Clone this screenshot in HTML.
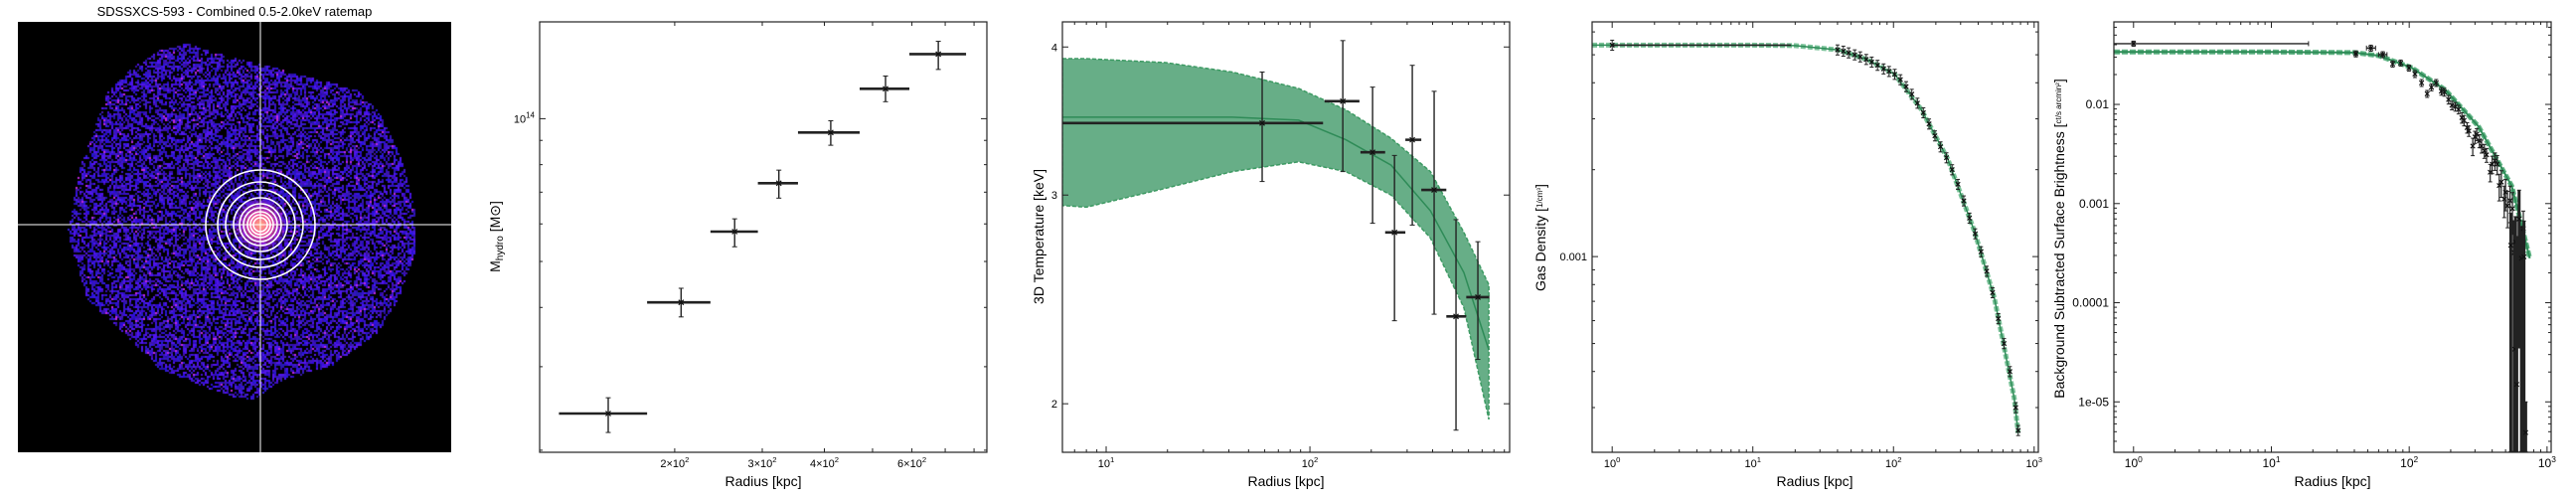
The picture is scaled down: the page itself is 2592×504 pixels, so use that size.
<!DOCTYPE html>
<html><head><meta charset="utf-8">
<style>
html,body{margin:0;padding:0;background:#fff;width:2592px;height:504px;overflow:hidden;position:relative;}
svg{display:block;font-family:"Liberation Sans",sans-serif;}
#fig{position:absolute;left:0;top:0;}
#rmap{position:absolute;left:18px;top:22px;}
#overlay{position:absolute;left:18px;top:22px;}
</style></head>
<body>
<svg id="fig" width="2592" height="504" viewBox="0 0 2592 504" xmlns="http://www.w3.org/2000/svg">
<defs>
<clipPath id="c2"><rect x="543" y="22" width="450" height="433"/></clipPath>
<clipPath id="c3"><rect x="1069" y="22" width="450" height="433"/></clipPath>
<clipPath id="c4"><rect x="1602" y="22" width="449" height="433"/></clipPath>
<clipPath id="c5"><rect x="2127" y="22" width="440" height="433"/></clipPath>
</defs>
<text x="236" y="16" font-size="13" text-anchor="middle" fill="#000">SDSSXCS-593 - Combined 0.5-2.0keV ratemap</text>
<g id="charts"></g>
</svg>
<canvas id="rmap" width="436" height="433"></canvas>
<svg id="overlay" width="436" height="433" viewBox="18 22 436 433">
<g fill="none" stroke="#fff" stroke-width="1.6">
<circle cx="262" cy="226" r="55"/><circle cx="262" cy="226" r="43"/><circle cx="262" cy="226" r="35"/><circle cx="262" cy="226" r="27"/><circle cx="262" cy="226" r="21"/><circle cx="262" cy="226" r="17"/><circle cx="262" cy="226" r="13"/><circle cx="262" cy="226" r="10"/><circle cx="262" cy="226" r="7"/>
</g>
<line x1="262" y1="22" x2="262" y2="455" stroke="#fff" stroke-width="1"/>
<line x1="18" y1="226" x2="454" y2="226" stroke="#fff" stroke-width="1"/>
</svg>
<script>
// ---------- Panel 2: hydrostatic mass ----------
const massR = [147, 206, 264, 324, 412, 531, 678];
const massRLo = [117, 176, 236, 294, 354, 471, 593];
const massRHi = [176, 236, 294, 354, 471, 593, 771];
const massM = [2.39e13, 4.10e13, 5.78e13, 7.31e13, 9.35e13, 1.156e14, 1.368e14];
const massMLo = [2.18e13, 3.82e13, 5.37e13, 6.80e13, 8.79e13, 1.086e14, 1.27e14];
const massMHi = [2.58e13, 4.39e13, 6.15e13, 7.79e13, 9.9e13, 1.23e14, 1.456e14];

// ---------- Panel 3: temperature ----------
const tempR = [58.3, 145, 203, 260, 318, 407, 521, 667];
const tempRLo = [6.1, 118, 177, 234, 294, 352, 467, 585];
const tempRHi = [116, 175, 234, 294, 352, 467, 585, 760];
const tempT = [3.45, 3.60, 3.26, 2.79, 3.34, 3.03, 2.37, 2.46];
const tempTLo = [3.08, 3.14, 2.84, 2.35, 2.83, 2.38, 1.90, 2.18];
const tempTHi = [3.81, 4.05, 3.70, 3.24, 3.86, 3.67, 2.86, 2.74];
const tempModelR = [6.1, 8, 19.6, 41.7, 88, 150, 250, 390, 570, 755];
const tempModelMid = [3.49, 3.49, 3.49, 3.49, 3.47, 3.34, 3.18, 2.91, 2.58, 2.22];
const tempModelLo = [2.94, 2.93, 3.04, 3.14, 3.20, 3.14, 3.00, 2.76, 2.41, 1.94];
const tempModelHi = [3.91, 3.91, 3.88, 3.81, 3.69, 3.54, 3.35, 3.14, 2.79, 2.52];

// ---------- Panel 4: gas density ----------
const densR = [1, 40, 44, 48, 53, 58, 64, 70, 77, 85, 93, 102, 112, 123, 135, 148, 163, 179, 197, 216, 238, 261, 287, 316, 347, 381, 419, 460, 506, 556, 611, 672, 740, 770];
const densN = [5.4e-3, 5.2e-3, 5.15e-3, 5.08e-3, 5.0e-3, 4.92e-3, 4.82e-3, 4.72e-3, 4.6e-3, 4.47e-3, 4.38e-3, 4.28e-3, 4.1e-3, 3.88e-3, 3.65e-3, 3.4e-3, 3.15e-3, 2.88e-3, 2.62e-3, 2.4e-3, 2.2e-3, 2.0e-3, 1.78e-3, 1.56e-3, 1.36e-3, 1.2e-3, 1.04e-3, 8.9e-4, 7.5e-4, 6.1e-4, 5.0e-4, 4.0e-4, 3.0e-4, 2.5e-4];
const densModelR = [0.72, 1, 10, 20, 40, 66, 102, 157, 243, 377, 521, 721, 770];
const densModelN = [5.4e-3, 5.4e-3, 5.4e-3, 5.38e-3, 5.2e-3, 4.8e-3, 4.28e-3, 3.24e-3, 2.18e-3, 1.22e-3, 7.2e-4, 3.24e-4, 2.45e-4];

// ---------- Panel 5: surface brightness ----------
const sbR = [1, 41, 52.7, 64.3, 75.8, 86.7, 99.5, 110, 123, 135, 145, 157, 171, 180, 193, 204, 216, 228, 241, 250, 263, 271, 289, 300, 309, 323, 335, 351, 364, 387, 400, 419, 435, 450, 466, 489, 500, 517, 539, 561, 546, 577, 583, 591, 603, 627, 652, 673, 680, 700];
const sbV = [0.041, 0.0324, 0.037, 0.0318, 0.0256, 0.0262, 0.0233, 0.0203, 0.0165, 0.0128, 0.0149, 0.0165, 0.0136, 0.0133, 0.0112, 0.0098, 0.0095, 0.0089, 0.00735, 0.0069, 0.00583, 0.0054, 0.0038, 0.0047, 0.005, 0.0043, 0.0038, 0.0034, 0.0031, 0.00207, 0.0025, 0.0027, 0.0025, 0.00152, 0.00165, 0.00111, 0.0013, 9.5e-4, 1.07e-3, 8.9e-4, 3.8e-4, 3.2e-4, 3.4e-5, 4.1e-4, 1.5e-5, 7e-4, 2.8e-4, 5.6e-4, 2.9e-4, 4.9e-6];
const sbErr = [0.06, 0.07, 0.07, 0.07, 0.07, 0.07, 0.07, 0.08, 0.08, 0.08, 0.08, 0.08, 0.09, 0.09, 0.1, 0.1, 0.1, 0.1, 0.12, 0.12, 0.12, 0.12, 0.2, 0.14, 0.14, 0.15, 0.15, 0.16, 0.16, 0.2, 0.2, 0.2, 0.22, 0.3, 0.3, 0.35, 0.35, 0.4, 0.4, 0.45, 1.1, 1.1, 14, 0.8, 30, 0.95, 1.1, 0.5, 1.3, 1.04];
const sbXLo = [0.72, 40, 49, 60, 0, 0, 0, 0];
const sbXHi = [18.6, 42, 57, 69, 0, 0, 0, 0];
const sbModelR = [0.72, 1, 10, 40, 60, 104, 182, 318, 555, 750];
const sbModelV = [0.0338, 0.0338, 0.0338, 0.0333, 0.031, 0.0235, 0.0141, 0.006, 0.0015, 0.00028];

// ---------- Ratemap (decorative pixel texture) ----------
(function () {
  const cv = document.getElementById('rmap');
  const ctx = cv.getContext('2d');
  ctx.fillStyle = '#000';
  ctx.fillRect(0, 0, 436, 433);
  const poly = [[187,43],[220,53],[313,77],[360,90],[380,110],[400,150],[407,173],[417,213],[417,253],[400,300],[380,333],[333,367],[280,383],[253,402],[227,397],[160,370],[133,343],[87,300],[67,233],[80,167],[107,93],[133,67],[160,50]];
  function inside(x, y) {
    let c = false;
    for (let i = 0, j = poly.length - 1; i < poly.length; j = i++) {
      const xi = poly[i][0], yi = poly[i][1], xj = poly[j][0], yj = poly[j][1];
      if (((yi > y) !== (yj > y)) && (x < (xj - xi) * (y - yi) / (yj - yi) + xi)) c = !c;
    }
    return c;
  }
  let seed = 12345;
  function rnd() { seed = (seed * 1103515245 + 12345) % 2147483648; return seed / 2147483648; }
  for (let y = 22; y < 455; y += 2) {
    for (let x = 18; x < 454; x += 2) {
      if (!inside(x, y)) continue;
      const r = rnd();
      if (r < 0.42) continue;
      let col;
      if (r > 0.98) col = 'rgb(190,40,220)';
      else if (r > 0.85) col = 'rgb(80,20,235)';
      else col = 'rgb(' + Math.floor(35 + rnd() * 35) + ',' + Math.floor(10 + rnd() * 20) + ',' + Math.floor(160 + rnd() * 70) + ')';
      ctx.fillStyle = col;
      ctx.fillRect(x - 18, y - 22, 2, 2);
    }
  }
  const g = ctx.createRadialGradient(244, 204, 0, 244, 204, 30);
  g.addColorStop(0, 'rgba(255,170,120,1)');
  g.addColorStop(0.35, 'rgba(255,90,160,0.95)');
  g.addColorStop(0.7, 'rgba(170,40,220,0.6)');
  g.addColorStop(1, 'rgba(60,20,200,0)');
  ctx.fillStyle = g;
  ctx.fillRect(200, 160, 90, 90);
})();

const NS = 'http://www.w3.org/2000/svg';
const root = document.getElementById('charts');
function mk(tag, attrs, parent) {
  const e = document.createElementNS(NS, tag);
  for (const k in attrs) e.setAttribute(k, attrs[k]);
  (parent || root).appendChild(e);
  return e;
}
function logScale(d0, d1, p0, p1) {
  const a = Math.log10(d0), b = Math.log10(d1);
  return v => p0 + (Math.log10(v) - a) / (b - a) * (p1 - p0);
}
function txt(parent, x, y, s, size, anchor, extra) {
  const t = mk('text', Object.assign({x: x, y: y, 'font-size': size, 'text-anchor': anchor || 'middle', fill: '#000'}, extra || {}), parent);
  t.textContent = s;
  return t;
}
function pow10Label(parent, x, y, pre, exp, size) {
  const t = mk('text', {x: x, y: y, 'font-size': size, 'text-anchor': 'middle', fill: '#000'}, parent);
  const a = mk('tspan', {}, t); a.textContent = pre + '10';
  const b = mk('tspan', {dy: -5, 'font-size': size * 0.7}, t); b.textContent = exp;
  return t;
}
function frame(g, box) {
  const r = mk('rect', {x: box.x0, y: box.y0, width: box.x1 - box.x0, height: box.y1 - box.y0, fill: 'none', stroke: '#222', 'stroke-width': 1.2}, g);
  
  
}
function xTicks(g, box, sx, vals, len) {
  vals.forEach(v => {
    const x = sx(v);
    if (x < box.x0 || x > box.x1) return;
    mk('line', {x1: x, x2: x, y1: box.y1, y2: box.y1 - len, stroke: '#222', 'stroke-width': 1}, g);
    mk('line', {x1: x, x2: x, y1: box.y0, y2: box.y0 + len, stroke: '#222', 'stroke-width': 1}, g);
  });
}
function yTicks(g, box, sy, vals, len) {
  vals.forEach(v => {
    const y = sy(v);
    if (y < box.y0 || y > box.y1) return;
    mk('line', {x1: box.x0, x2: box.x0 + len, y1: y, y2: y, stroke: '#222', 'stroke-width': 1}, g);
    mk('line', {x1: box.x1, x2: box.x1 - len, y1: y, y2: y, stroke: '#222', 'stroke-width': 1}, g);
  });
}
function minors(decades) {
  const out = [];
  decades.forEach(d => { for (let i = 2; i <= 9; i++) out.push(i * d); });
  return out;
}
function xMark(g, x, y, s) {
  mk('path', {d: `M${x - s},${y - s}L${x + s},${y + s}M${x - s},${y + s}L${x + s},${y - s}`, stroke: '#111', 'stroke-width': 1.2, fill: 'none'}, g);
}
function errbar(g, x1, y1, x2, y2, w, cap, horiz) {
  mk('line', {x1: x1, y1: y1, x2: x2, y2: y2, stroke: '#222', 'stroke-width': w}, g);
  if (cap > 0) {
    if (horiz) {
      mk('line', {x1: x1, x2: x1, y1: y1 - cap, y2: y1 + cap, stroke: '#222', 'stroke-width': 1}, g);
      mk('line', {x1: x2, x2: x2, y1: y2 - cap, y2: y2 + cap, stroke: '#222', 'stroke-width': 1}, g);
    } else {
      mk('line', {x1: x1 - cap, x2: x1 + cap, y1: y1, y2: y1, stroke: '#222', 'stroke-width': 1}, g);
      mk('line', {x1: x2 - cap, x2: x2 + cap, y1: y2, y2: y2, stroke: '#222', 'stroke-width': 1}, g);
    }
  }
}
function pathFrom(xs, ys, sx, sy) {
  return xs.map((v, i) => (i ? 'L' : 'M') + sx(v).toFixed(1) + ',' + sy(ys[i]).toFixed(1)).join('');
}

// ===== Panel 2 =====
(function () {
  const box = {x0: 543, x1: 993, y0: 22, y1: 455};
  const sx = logScale(107, 849, box.x0, box.x1);
  const sy = logScale(1.98e13, 1.6e14, box.y1, box.y0);
  const g = mk('g', {});
  
  
  const pg = mk('g', {'clip-path': 'url(#c2)'}, g);
  massR.forEach((r, i) => {
    const p = mk('g', {}, pg);
    
    
    errbar(p, sx(massRLo[i]), sy(massM[i]), sx(massRHi[i]), sy(massM[i]), 2.6, 0, true);
    errbar(p, sx(r), sy(massMLo[i]), sx(r), sy(massMHi[i]), 1.4, 2.5, false);
    xMark(p, sx(r), sy(massM[i]), 2.5);
  });
  frame(g, box);
  xTicks(g, box, sx, [200, 300, 400, 500, 600, 700, 800], 4);
  yTicks(g, box, sy, minors([1e13]), 3);
  yTicks(g, box, sy, [1e14], 6);
  const lab = [[200, '2\u00d7'], [300, '3\u00d7'], [400, '4\u00d7'], [600, '6\u00d7']];
  lab.forEach(l => {
    const t = pow10Label(g, sx(l[0]), 470, l[1], '2', 11);
    
    
  });
  const yl = mk('text', {x: 538, y: sy(1e14) + 4, 'font-size': 11, 'text-anchor': 'end', fill: '#000'}, g);
  
  
  const a1 = mk('tspan', {}, yl); a1.textContent = '10';
  const a2 = mk('tspan', {dy: -5, 'font-size': 8}, yl); a2.textContent = '14';
  const xt = txt(g, 768, 489, 'Radius [kpc]', 14);
  
  
  const yt = mk('text', {x: 0, y: 0, 'font-size': 14, 'text-anchor': 'middle', fill: '#000', transform: 'translate(503,238) rotate(-90)'}, g);
  
  
  const b1 = mk('tspan', {}, yt); b1.textContent = 'M';
  const b2 = mk('tspan', {dy: 3, 'font-size': 10}, yt); b2.textContent = 'hydro';
  const b3 = mk('tspan', {dy: -3}, yt); b3.textContent = ' [M\u2299]';
})();

// ===== Panel 3 =====
(function () {
  const box = {x0: 1069, x1: 1519, y0: 22, y1: 455};
  const sx = logScale(6.1, 955, box.x0, box.x1);
  const sy = logScale(1.82, 4.2, box.y1, box.y0);
  const g = mk('g', {});
  
  
  const pg = mk('g', {'clip-path': 'url(#c3)'}, g);
  const revR = tempModelR.slice().reverse();
  const revLo = tempModelLo.slice().reverse();
  const band = mk('path', {d: pathFrom(tempModelR, tempModelHi, sx, sy) + pathFrom(revR, revLo, sx, sy).replace('M', 'L') + 'Z', fill: '#67ae87', stroke: '#3d9a63', 'stroke-width': 1.5, 'stroke-dasharray': '4,2'}, pg);
  
  
  const ml = mk('path', {d: pathFrom(tempModelR, tempModelMid, sx, sy), fill: 'none', stroke: '#2e8b57', 'stroke-width': 1.5}, pg);
  
  
  tempR.forEach((r, i) => {
    const p = mk('g', {}, pg);
    
    
    errbar(p, sx(tempRLo[i]), sy(tempT[i]), sx(tempRHi[i]), sy(tempT[i]), 2.6, 0, true);
    errbar(p, sx(r), sy(tempTLo[i]), sx(r), sy(tempTHi[i]), 1.4, 2.5, false);
    xMark(p, sx(r), sy(tempT[i]), 2.5);
  });
  frame(g, box);
  xTicks(g, box, sx, minors([1, 10, 100]), 3);
  xTicks(g, box, sx, [10, 100], 6);
  yTicks(g, box, sy, [2, 3, 4], 6);
  [[10, '1'], [100, '2']].forEach(l => {
    const t = pow10Label(g, sx(l[0]), 470, '', l[1], 11);
    
    
  });
  [2, 3, 4].forEach(v => {
    const t = txt(g, 1064, sy(v) + 4, String(v), 11, 'end');
    
    
  });
  const xt = txt(g, 1294, 489, 'Radius [kpc]', 14);
  
  
  const yt = txt(g, 0, 0, '3D Temperature [keV]', 14, 'middle', {transform: 'translate(1050,238) rotate(-90)'});
  
  
})();

// ===== Panel 4 =====
(function () {
  const box = {x0: 1602, x1: 2051, y0: 22, y1: 455};
  const sx = logScale(0.72, 1071, box.x0, box.x1);
  const sy = logScale(2.1e-4, 6.5e-3, box.y1, box.y0);
  const g = mk('g', {});
  
  
  const pg = mk('g', {'clip-path': 'url(#c4)'}, g);
  const bd = mk('path', {d: pathFrom(densModelR, densModelN, sx, sy), fill: 'none', stroke: '#7cc39a', 'stroke-width': 5, 'stroke-dasharray': '5,2'}, pg);
  
  
  const ml = mk('path', {d: pathFrom(densModelR, densModelN, sx, sy), fill: 'none', stroke: '#2e8b57', 'stroke-width': 1.5}, pg);
  
  
  errbar(pg, sx(1), sy(densN[0]), sx(18.7), sy(densN[0]), 1.6, 0, true);
  densR.forEach((r, i) => {
    const p = mk('g', {}, pg);
    
    
    errbar(p, sx(r), sy(densN[i] * 1.04), sx(r), sy(densN[i] * 0.96), 1, 2, false);
    xMark(p, sx(r), sy(densN[i]), 2.2);
  });
  frame(g, box);
  xTicks(g, box, sx, minors([1, 10, 100]), 3);
  xTicks(g, box, sx, [1, 10, 100, 1000], 6);
  yTicks(g, box, sy, minors([1e-4, 1e-3]), 3);
  yTicks(g, box, sy, [1e-3], 6);
  [[1, '0'], [10, '1'], [100, '2'], [1000, '3']].forEach(l => {
    const t = pow10Label(g, sx(l[0]), 470, '', l[1], 11);
    
    
  });
  const yl = txt(g, 1597, sy(1e-3) + 4, '0.001', 11, 'end');
  
  
  const xt = txt(g, 1826, 489, 'Radius [kpc]', 14);
  
  
  const yt = mk('text', {x: 0, y: 0, 'font-size': 14, 'text-anchor': 'middle', fill: '#000', transform: 'translate(1555,239) rotate(-90)'}, g);
  
  
  const c1 = mk('tspan', {}, yt); c1.textContent = 'Gas Density  [';
  const c2 = mk('tspan', {'font-size': 8, dy: -3}, yt); c2.textContent = '1/cm\u00b3';
  const c3 = mk('tspan', {dy: 3}, yt); c3.textContent = ']';
})();

// ===== Panel 5 =====
(function () {
  const box = {x0: 2127, x1: 2567, y0: 22, y1: 455};
  const sx = logScale(0.72, 1071, box.x0, box.x1);
  const sy = logScale(3.1e-6, 0.068, box.y1, box.y0);
  const g = mk('g', {});
  
  
  const pg = mk('g', {'clip-path': 'url(#c5)'}, g);
  const bd = mk('path', {d: pathFrom(sbModelR, sbModelV, sx, sy), fill: 'none', stroke: '#5fb383', 'stroke-width': 5, 'stroke-dasharray': '6,2'}, pg);
  
  
  const ml = mk('path', {d: pathFrom(sbModelR, sbModelV, sx, sy), fill: 'none', stroke: '#2e8b57', 'stroke-width': 2}, pg);
  
  
  sbR.forEach((r, i) => {
    const p = mk('g', {}, pg);
    
    
    const v = sbV[i], e = sbErr[i];
    const lo = e >= 1 ? 3.15e-6 : Math.max(3.15e-6, v * (1 - e));
    const big = e >= 0.8;
    errbar(p, sx(r), sy(lo), sx(r), sy(v * (1 + e)), big ? 3 : 1.2, 2, false);
    if (i < sbXLo.length && sbXLo[i] > 0) {
      errbar(p, sx(sbXLo[i]), sy(v), sx(sbXHi[i]), sy(v), 1.4, 2.5, true);
    }
    xMark(p, sx(r), sy(v), 2.2);
  });
  frame(g, box);
  xTicks(g, box, sx, minors([1, 10, 100]), 3);
  xTicks(g, box, sx, [1, 10, 100, 1000], 6);
  yTicks(g, box, sy, minors([1e-6, 1e-5, 1e-4, 1e-3, 1e-2]), 3);
  yTicks(g, box, sy, [1e-5, 1e-4, 1e-3, 1e-2], 6);
  [[1, '0'], [10, '1'], [100, '2'], [1000, '3']].forEach(l => {
    const t = pow10Label(g, sx(l[0]), 470, '', l[1], 12);
    
    
  });
  [[1e-2, '0.01'], [1e-3, '0.001'], [1e-4, '0.0001'], [1e-5, '1e-05']].forEach(l => {
    const t = txt(g, 2122, sy(l[0]) + 4, l[1], 12, 'end');
    
    
  });
  const xt = txt(g, 2347, 489, 'Radius [kpc]', 14);
  
  
  const yt = mk('text', {x: 0, y: 0, 'font-size': 14, 'text-anchor': 'middle', fill: '#000', transform: 'translate(2077,240) rotate(-90)'}, g);
  
  
  const d1 = mk('tspan', {}, yt); d1.textContent = 'Background Subtracted Surface Brightness  [';
  const d2 = mk('tspan', {'font-size': 8, dy: -3}, yt); d2.textContent = 'ct/s arcmin\u00b2';
  const d3 = mk('tspan', {dy: 3}, yt); d3.textContent = ']';
})();
</script>
</body></html>
